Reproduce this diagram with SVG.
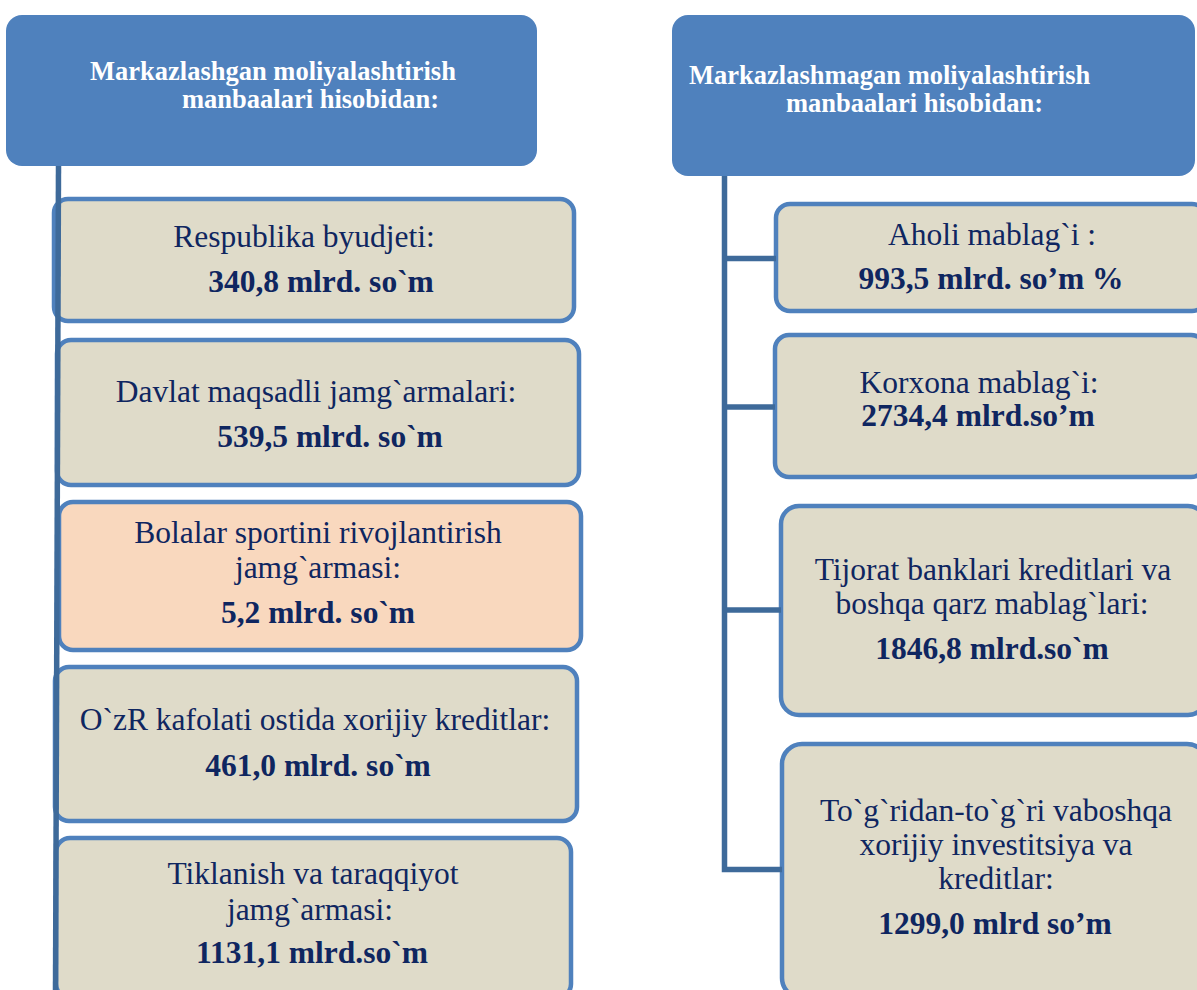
<svg xmlns="http://www.w3.org/2000/svg" width="1197" height="990" viewBox="0 0 1197 990">
<style>
.hdr{fill:#4F81BD}
.box{fill:#DFDBC9;stroke:#4F81BD;stroke-width:4.5}
.pk{fill:#F9D8BE;stroke:#4F81BD;stroke-width:4.5}
.ht{font-family:"Liberation Serif","Times New Roman",serif;font-weight:bold;font-size:26.5px;fill:#FFFFFF}
.t{font-family:"Liberation Serif","Times New Roman",serif;font-size:31.5px;fill:#0F2660;text-anchor:middle}
.b{font-family:"Liberation Serif","Times New Roman",serif;font-size:31.5px;font-weight:bold;fill:#0F2660;text-anchor:middle}
.con{fill:none;stroke:#3E6A9A;stroke-width:5.5}
</style>
<rect width="1197" height="990" fill="#FFFFFF"/>
<g id="hdr-left">
<rect class="hdr" x="6" y="15" width="531" height="151" rx="16"/>
<text class="ht" x="90" y="80">Markazlashgan moliyalashtirish</text>
<text class="ht" x="182" y="108">manbaalari hisobidan:</text>
</g>
<g id="hdr-right">
<rect class="hdr" x="672" y="15" width="523" height="161" rx="16"/>
<text class="ht" x="689" y="84">Markazlashmagan moliyalashtirish</text>
<text class="ht" x="786" y="112">manbaalari hisobidan:</text>
</g>
<g id="n-respublika">
<rect class="box" x="54" y="199" width="520" height="122" rx="14"/>
<text class="t" x="304" y="247">Respublika byudjeti:</text>
<text class="b" x="321" y="292">340,8 mlrd. so`m</text>
</g>
<g id="n-davlat">
<rect class="box" x="57" y="340" width="522" height="145" rx="14"/>
<text class="t" x="316" y="402">Davlat maqsadli jamg`armalari:</text>
<text class="b" x="330" y="447">539,5 mlrd. so`m</text>
</g>
<g id="n-bolalar">
<rect class="pk" x="59" y="502" width="522" height="148" rx="14"/>
<text class="t" x="318" y="543">Bolalar sportini rivojlantirish</text>
<text class="t" x="318" y="578">jamg`armasi:</text>
<text class="b" x="318" y="623">5,2 mlrd. so`m</text>
</g>
<g id="n-ozr">
<rect class="box" x="55" y="667" width="522" height="154" rx="14"/>
<text class="t" x="315" y="730">O`zR kafolati ostida xorijiy kreditlar:</text>
<text class="b" x="318" y="776">461,0 mlrd. so`m</text>
</g>
<g id="n-tiklanish">
<rect class="box" x="56" y="838" width="515" height="160" rx="14"/>
<text class="t" x="313" y="884">Tiklanish va taraqqiyot</text>
<text class="t" x="310" y="920">jamg`armasi:</text>
<text class="b" x="312" y="963">1131,1 mlrd.so`m</text>
</g>
<g id="n-aholi">
<rect class="box" x="776" y="204" width="430" height="107" rx="14"/>
<text class="t" x="992" y="245">Aholi mablag`i :</text>
<text class="b" x="991" y="289">993,5 mlrd. so’m %</text>
</g>
<g id="n-korxona">
<rect class="box" x="775" y="335" width="430" height="142" rx="14"/>
<text class="t" x="979" y="393">Korxona mablag`i:</text>
<text class="b" x="978" y="426">2734,4 mlrd.so’m</text>
</g>
<g id="n-tijorat">
<rect class="box" x="781" y="506" width="425" height="209" rx="18"/>
<text class="t" x="993" y="580">Tijorat banklari kreditlari va</text>
<text class="t" x="992" y="614">boshqa qarz mablag`lari:</text>
<text class="b" x="992" y="659">1846,8 mlrd.so`m</text>
</g>
<g id="n-togridan">
<rect class="box" x="782" y="744" width="425" height="254" rx="20"/>
<text class="t" x="996" y="821">To`g`ridan-to`g`ri vaboshqa</text>
<text class="t" x="996" y="855">xorijiy investitsiya va</text>
<text class="t" x="996" y="889">kreditlar:</text>
<text class="b" x="995" y="934">1299,0 mlrd so’m</text>
</g>
<g id="connectors">
<path class="con" d="M58.5 166 L55.5 990"/>
<path class="con" d="M724.5 176 V869.5 H782"/>
<path class="con" d="M724.5 258.5 H776"/>
<path class="con" d="M724.5 407 H775"/>
<path class="con" d="M724.5 610 H781"/>
</g>
</svg>
